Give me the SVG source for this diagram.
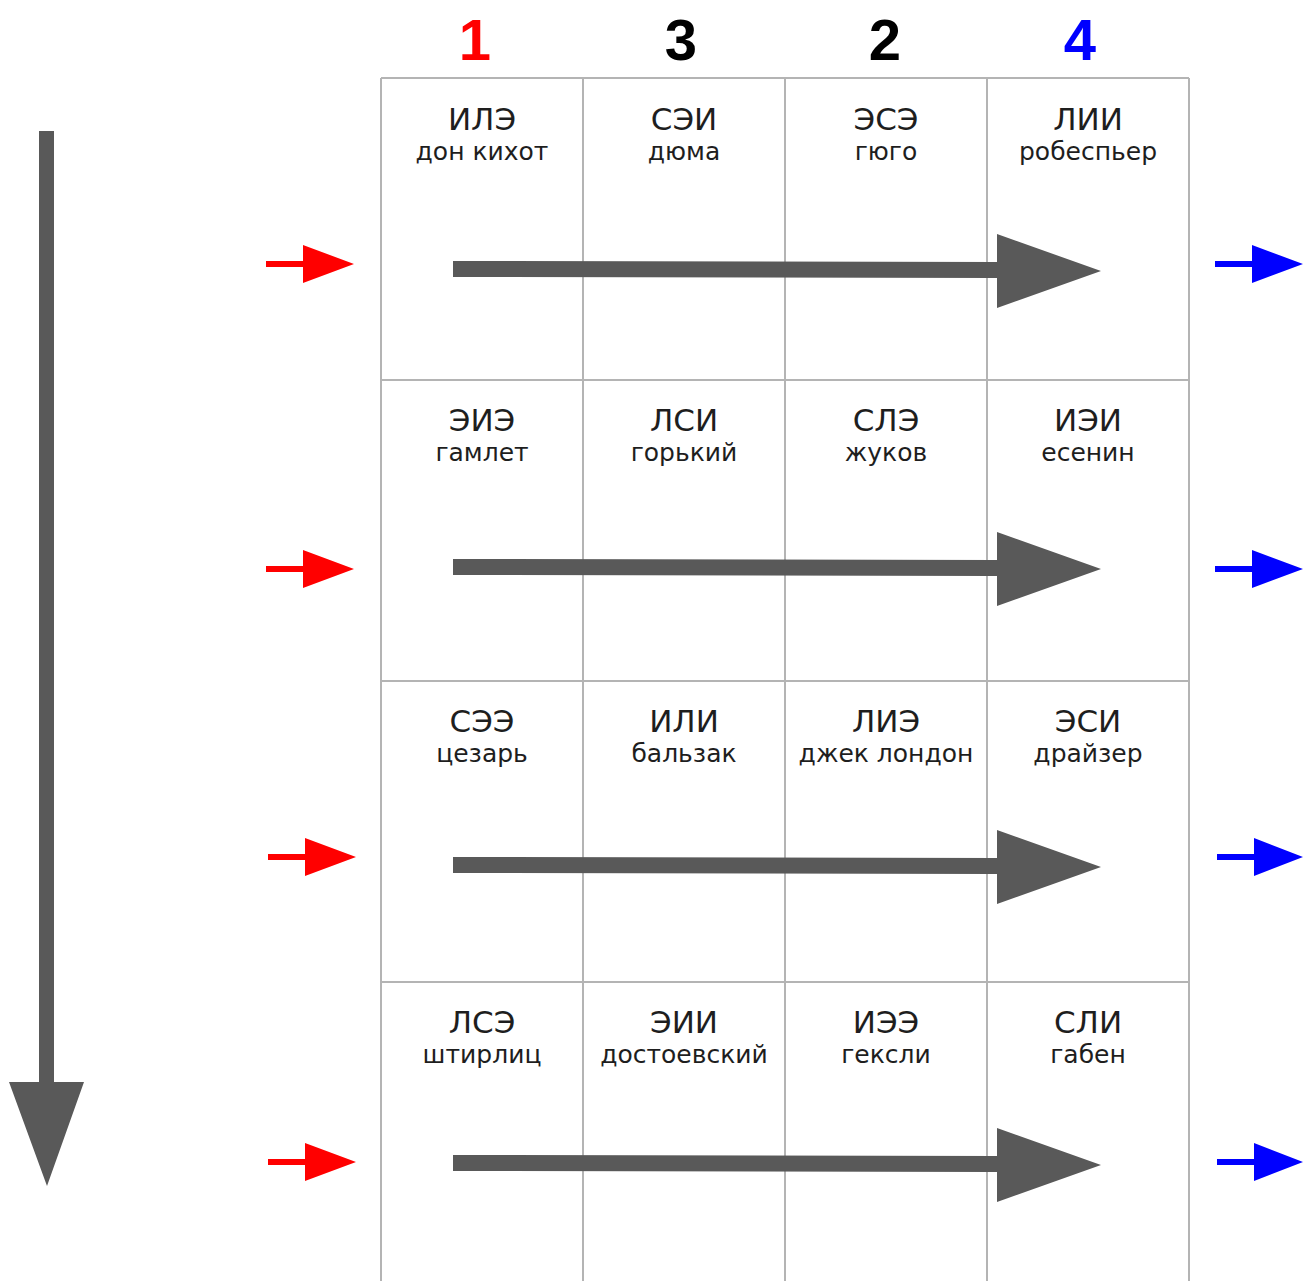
<svg xmlns="http://www.w3.org/2000/svg" width="1303" height="1281" viewBox="0 0 1303 1281">
<style>
.g{stroke:#b4b4b4;stroke-width:2;fill:none}
.t{font-family:"DejaVu Sans",Verdana,sans-serif;font-size:31px;fill:#1e1e1e;text-anchor:middle}
.s{font-family:"DejaVu Sans",Verdana,sans-serif;font-size:25px;fill:#1e1e1e;text-anchor:middle}
.n{font-family:"Liberation Sans",Arial,sans-serif;font-size:58px;font-weight:bold;text-anchor:middle}
.big{fill:#595959}
.red{fill:#ff0000}
.blue{fill:#0000ff}
</style>
<rect width="1303" height="1281" fill="#fff"/>
<g id="headers">
<text class="n" x="475" y="60" fill="#ff0000">1</text>
<text class="n" x="681" y="60" fill="#000">3</text>
<text class="n" x="885" y="60" fill="#000">2</text>
<text class="n" x="1080" y="60" fill="#0000ff">4</text>
</g>
<g id="grid">
<path class="g" d="M381,78H1189M381,380H1189M381,681H1189M381,982H1189M381,78V1281M583,78V1281M785,78V1281M987,78V1281M1189,78V1281"/>
</g>
<g id="r1c1"><text class="t" x="482" y="130">ИЛЭ</text><text class="s" x="482" y="160">дон кихот</text></g>
<g id="r1c2"><text class="t" x="684" y="130">СЭИ</text><text class="s" x="684" y="160">дюма</text></g>
<g id="r1c3"><text class="t" x="886" y="130">ЭСЭ</text><text class="s" x="886" y="160">гюго</text></g>
<g id="r1c4"><text class="t" x="1088" y="130">ЛИИ</text><text class="s" x="1088" y="160">робеспьер</text></g>
<g id="r2c1"><text class="t" x="482" y="431">ЭИЭ</text><text class="s" x="482" y="461">гамлет</text></g>
<g id="r2c2"><text class="t" x="684" y="431">ЛСИ</text><text class="s" x="684" y="461">горький</text></g>
<g id="r2c3"><text class="t" x="886" y="431">СЛЭ</text><text class="s" x="886" y="461">жуков</text></g>
<g id="r2c4"><text class="t" x="1088" y="431">ИЭИ</text><text class="s" x="1088" y="461">есенин</text></g>
<g id="r3c1"><text class="t" x="482" y="732">СЭЭ</text><text class="s" x="482" y="762">цезарь</text></g>
<g id="r3c2"><text class="t" x="684" y="732">ИЛИ</text><text class="s" x="684" y="762">бальзак</text></g>
<g id="r3c3"><text class="t" x="886" y="732">ЛИЭ</text><text class="s" x="886" y="762">джек лондон</text></g>
<g id="r3c4"><text class="t" x="1088" y="732">ЭСИ</text><text class="s" x="1088" y="762">драйзер</text></g>
<g id="r4c1"><text class="t" x="482" y="1033">ЛСЭ</text><text class="s" x="482" y="1063">штирлиц</text></g>
<g id="r4c2"><text class="t" x="684" y="1033">ЭИИ</text><text class="s" x="684" y="1063">достоевский</text></g>
<g id="r4c3"><text class="t" x="886" y="1033">ИЭЭ</text><text class="s" x="886" y="1063">гексли</text></g>
<g id="r4c4"><text class="t" x="1088" y="1033">СЛИ</text><text class="s" x="1088" y="1063">габен</text></g>
<g id="connectors">
<polygon class="big" points="39,131 54,131 54,1082 84,1082 47,1186 9,1082 39,1082"/>
<polygon class="big" points="453,261 997,262 997,234 1101,271 997,308 997,278 453,277"/>
<polygon class="big" points="453,559 997,560 997,532 1101,569 997,606 997,576 453,575"/>
<polygon class="big" points="453,857 997,858 997,830 1101,867 997,904 997,874 453,873"/>
<polygon class="big" points="453,1155 997,1156 997,1128 1101,1165 997,1202 997,1172 453,1171"/>
<polygon class="red" points="266,261 303,261 303,245 354,264 303,283 303,267 266,267"/>
<polygon class="red" points="266,566 303,566 303,550 354,569 303,588 303,572 266,572"/>
<polygon class="red" points="268,854 305,854 305,838 356,857 305,876 305,860 268,860"/>
<polygon class="red" points="268,1159 305,1159 305,1143 356,1162 305,1181 305,1165 268,1165"/>
<polygon class="blue" points="1215,261 1252,261 1252,245 1303,264 1252,283 1252,267 1215,267"/>
<polygon class="blue" points="1215,566 1252,566 1252,550 1303,569 1252,588 1252,572 1215,572"/>
<polygon class="blue" points="1217,854 1254,854 1254,838 1303,857 1254,876 1254,860 1217,860"/>
<polygon class="blue" points="1217,1159 1254,1159 1254,1143 1303,1162 1254,1181 1254,1165 1217,1165"/>
</g>
</svg>
